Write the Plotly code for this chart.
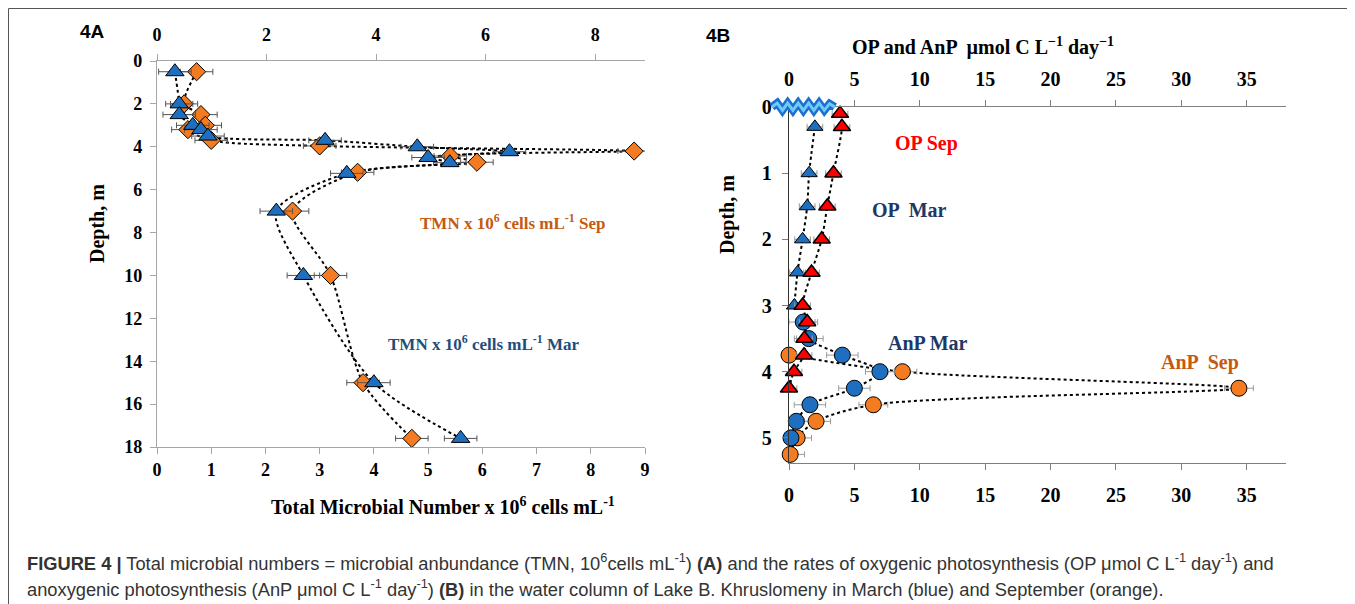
import plotly.graph_objects as go

# the page body adds an 8px margin; the figure is sized so that it fills the rest of the window
OFF = 8
W, H = 1355 - OFF, 604 - OFF

# ---------------- Panel A data (TMN, 10^6 cells/mL) ----------------
a_mar_depth = [0.5, 2.0, 2.5, 3.0, 3.2, 3.5, 3.7, 4.0, 4.23, 4.5, 4.74, 5.24, 7.0, 10.0, 15.0, 17.6]
a_mar_tmn = [0.33, 0.41, 0.41, 0.66, 0.81, 0.94, 3.1, 4.8, 6.5, 5.0, 5.4, 3.5, 2.2, 2.7, 4.0, 5.6]
a_mar_err = [0.3, 0.25, 0.3, 0.3, 0.3, 0.3, 0.3, 0.3, 0.3, 0.3, 0.3, 0.3, 0.3, 0.3, 0.3, 0.3]

a_sep_depth = [0.5, 2.0, 2.5, 3.0, 3.2, 3.7, 3.96, 4.2, 4.43, 4.72, 5.19, 7.0, 10.0, 15.0, 17.6]
a_sep_tmn = [0.73, 0.5, 0.81, 0.89, 0.57, 1.0, 3.0, 8.8, 5.41, 5.9, 3.7, 2.5, 3.2, 3.8, 4.7]
a_sep_err = [0.3, 0.25, 0.3, 0.3, 0.3, 0.3, 0.3, 0.3, 0.3, 0.3, 0.3, 0.3, 0.3, 0.3, 0.3]

a_x_ticks = [0, 1, 2, 3, 4, 5, 6, 7, 8, 9]
a_top_ticks = [0, 2, 4, 6, 8]
a_y_ticks = [0, 2, 4, 6, 8, 10, 12, 14, 16, 18]

# ---------------- Panel B data (umol C / L / day) ----------------
op_mar_depth = [0.3, 1.0, 1.5, 2.0, 2.5, 3.0]
op_mar = [1.98, 1.54, 1.39, 1.04, 0.65, 0.41]
op_mar_err = [0.6, 0.6, 0.6, 0.6, 0.6, 0.6]

op_sep_depth = [0.1, 0.3, 1.0, 1.5, 2.0, 2.5, 3.0, 3.25, 3.5, 3.75, 4.0, 4.25]
op_sep = [3.9, 4.05, 3.4, 2.93, 2.5, 1.72, 1.04, 1.39, 1.18, 1.15, 0.38, 0.0]
op_sep_err = [0.6, 0.6, 0.6, 0.6, 0.6, 0.6, 0.6, 0.6, 0.6, 0.6, 0.6, 0.6]

anp_mar_depth = [3.25, 3.5, 3.75, 4.0, 4.25, 4.5, 4.75, 5.0]
anp_mar = [1.09, 1.51, 4.08, 6.95, 5.0, 1.6, 0.56, 0.15]
anp_mar_err = [1.1, 1.1, 1.2, 1.1, 1.2, 1.2, 0.6, 0.6]

anp_sep_depth = [3.75, 4.0, 4.25, 4.5, 4.75, 5.0, 5.25]
anp_sep = [0.0, 8.67, 34.4, 6.45, 2.07, 0.62, 0.09]
anp_sep_err = [0.3, 1.1, 1.1, 1.1, 1.1, 1.1, 1.1]

b_x_ticks = [0, 5, 10, 15, 20, 25, 30, 35]
b_y_ticks = [0, 1, 2, 3, 4, 5]

# ice / surface marker at depth 0 (zigzag)
ice_x = [-1.3, -0.9, -0.5, -0.1, 0.3, 0.7, 1.1, 1.5, 1.9, 2.3, 2.7, 3.1, 3.5]
ice_y = [0.0, -0.06, 0.05, -0.06, 0.05, -0.06, 0.05, -0.06, 0.05, -0.06, 0.05, -0.05, 0.0]

# ---------------- styling ----------------
BLUE = "#1f6fc0"
ORANGE = "#f47b20"
RED = "#ff0000"
SERIF = "Liberation Serif, Times New Roman, serif"
SANS = "Liberation Sans, Arial, sans-serif"


def px_x(p):
    return (p - OFF) / W


def px_y(p):
    return 1 - (p - OFF) / H


fig = go.Figure()

dot_line = dict(color="black", width=2, dash="dot", shape="spline", smoothing=0.8)

# Panel A lines
fig.add_trace(go.Scatter(x=a_mar_tmn, y=a_mar_depth, mode="lines", line=dot_line,
                         xaxis="x", yaxis="y", hoverinfo="skip", showlegend=False))
fig.add_trace(go.Scatter(x=a_sep_tmn, y=a_sep_depth, mode="lines", line=dot_line,
                         xaxis="x", yaxis="y", hoverinfo="skip", showlegend=False))
# Panel A markers
fig.add_trace(go.Scatter(x=a_sep_tmn, y=a_sep_depth, mode="markers",
                         marker=dict(symbol="diamond", size=14, color=ORANGE,
                                     line=dict(color="black", width=1)),
                         error_x=dict(type="data", array=a_sep_err, color="#555555",
                                      thickness=1, width=3),
                         xaxis="x", yaxis="y", cliponaxis=False, showlegend=False, name="TMN Sep"))
fig.add_trace(go.Scatter(x=a_mar_tmn, y=a_mar_depth, mode="markers",
                         marker=dict(symbol="triangle-up", size=16, color=BLUE,
                                     line=dict(color="black", width=1)),
                         error_x=dict(type="data", array=a_mar_err, color="#555555",
                                      thickness=1, width=3),
                         xaxis="x", yaxis="y", cliponaxis=False, showlegend=False, name="TMN Mar"))
# dummy trace for top axis of A
fig.add_trace(go.Scatter(x=[0], y=[0], mode="markers", marker=dict(opacity=0),
                         xaxis="x2", yaxis="y", hoverinfo="skip", showlegend=False))

# Panel B lines
for xs, ys in [(op_mar, op_mar_depth), (op_sep, op_sep_depth),
               (anp_mar, anp_mar_depth), (anp_sep, anp_sep_depth)]:
    fig.add_trace(go.Scatter(x=xs, y=ys, mode="lines", line=dot_line,
                             xaxis="x3", yaxis="y2", hoverinfo="skip", showlegend=False))

# ice marker, drawn on a hidden companion subplot with the same scale but a little more room
fig.add_trace(go.Scatter(x=ice_x, y=ice_y, mode="lines",
                         line=dict(color="#1a6fd0", width=8),
                         xaxis="x5", yaxis="y3", hoverinfo="skip", showlegend=False))
fig.add_trace(go.Scatter(x=ice_x, y=ice_y, mode="lines",
                         line=dict(color="#6fcaf5", width=3),
                         xaxis="x5", yaxis="y3", hoverinfo="skip", showlegend=False))

err_b = dict(type="data", color="#9a9a9a", thickness=1, width=3)
fig.add_trace(go.Scatter(x=anp_sep, y=anp_sep_depth, mode="markers",
                         marker=dict(symbol="circle", size=16, color=ORANGE,
                                     line=dict(color="black", width=1)),
                         error_x=dict(err_b, array=anp_sep_err),
                         xaxis="x3", yaxis="y2", cliponaxis=False, showlegend=False, name="AnP Sep"))
fig.add_trace(go.Scatter(x=anp_mar, y=anp_mar_depth, mode="markers",
                         marker=dict(symbol="circle", size=16, color=BLUE,
                                     line=dict(color="black", width=1)),
                         error_x=dict(err_b, array=anp_mar_err),
                         xaxis="x3", yaxis="y2", cliponaxis=False, showlegend=False, name="AnP Mar"))
fig.add_trace(go.Scatter(x=op_mar, y=op_mar_depth, mode="markers",
                         marker=dict(symbol="triangle-up", size=14, color=BLUE,
                                     line=dict(color="black", width=1)),
                         error_x=dict(err_b, array=op_mar_err),
                         xaxis="x3", yaxis="y2", cliponaxis=False, showlegend=False, name="OP Mar"))
fig.add_trace(go.Scatter(x=op_sep, y=op_sep_depth, mode="markers",
                         marker=dict(symbol="triangle-up", size=15, color=RED,
                                     line=dict(color="black", width=1.5)),
                         error_x=dict(err_b, array=op_sep_err),
                         xaxis="x3", yaxis="y2", cliponaxis=False, showlegend=False, name="OP Sep"))
# dummy for top axis of B
fig.add_trace(go.Scatter(x=[0], y=[0], mode="markers", marker=dict(opacity=0),
                         xaxis="x4", yaxis="y2", hoverinfo="skip", showlegend=False))

tick_font_a = dict(family=SERIF, size=18, color="black", weight="bold")
tick_font_b = dict(family=SERIF, size=20, color="black", weight="bold")
gray_a = "#a6a6a6"
gray_b = "#7f7f7f"

axA_common = dict(showgrid=False, zeroline=False, showline=True, linecolor=gray_a,
                  linewidth=1.3, ticks="outside", ticklen=6, tickcolor=gray_a,
                  tickfont=tick_font_a, automargin=False)
axB_common = dict(showgrid=False, zeroline=False, showline=True, linecolor=gray_b,
                  linewidth=1.3, ticks="outside", ticklen=6, tickcolor=gray_b,
                  tickfont=tick_font_b, automargin=False)

dA_x = [px_x(157), px_x(645)]
dA_y = [px_y(447), px_y(61)]
# panel B: x 0..38 over 789..1286 px, depth 0..5.38 over 107..463 px
bx0, bx1, by0, by1 = 789, 1286, 107, 463
bxmax, bymax = 38.0, 5.38
dB_x = [px_x(bx0), px_x(bx1)]
dB_y = [px_y(by1), px_y(by0)]
# hidden companion subplot (same scale, extended 20 px left and 14 px up)
sx = (bx1 - bx0) / bxmax
sy = (by1 - by0) / bymax
ex0, ey0 = bx0 - 20, by0 - 14
dI_x = [px_x(ex0), px_x(bx1)]
dI_y = [px_y(by1), px_y(ey0)]
rI_x = [-(bx0 - ex0) / sx, bxmax]
rI_y = [bymax, -(by0 - ey0) / sy]

hidden = dict(visible=False, showgrid=False, zeroline=False, automargin=False)

fig.update_layout(
    width=W, height=H,
    margin=dict(l=0, r=0, t=0, b=0, autoexpand=False),
    paper_bgcolor="white", plot_bgcolor="rgba(0,0,0,0)",
    xaxis=dict(axA_common, domain=dA_x, range=[0, 9], tickvals=a_x_ticks,
               anchor="y", side="bottom"),
    xaxis2=dict(axA_common, domain=dA_x, range=[0, 8.91], tickvals=a_top_ticks,
                anchor="y", side="top", overlaying="x", ticklabelstandoff=6),
    yaxis=dict(axA_common, domain=dA_y, range=[18, 0], tickvals=a_y_ticks,
               anchor="x", ticklabelstandoff=4),
    xaxis3=dict(axB_common, domain=dB_x, range=[0, bxmax], tickvals=b_x_ticks,
                anchor="y2", side="bottom", ticklabelstandoff=8),
    xaxis4=dict(axB_common, domain=dB_x, range=[0, bxmax], tickvals=b_x_ticks,
                anchor="y2", side="top", overlaying="x3", ticklabelstandoff=6),
    yaxis2=dict(axB_common, domain=dB_y, range=[bymax, 0], tickvals=b_y_ticks,
                anchor="x3", linecolor="#333333", ticklabelstandoff=6),
    xaxis5=dict(hidden, domain=dI_x, range=rI_x, anchor="y3"),
    yaxis3=dict(hidden, domain=dI_y, range=rI_y, anchor="x5"),
)

ann = []


def add_text(text, x, y, size, color="black", family=SERIF, bold=True,
             xanchor="center", yanchor="middle", angle=0):
    t = f"<b>{text}</b>" if bold else text
    ann.append(dict(text=t, x=px_x(x), y=px_y(y), xref="paper", yref="paper",
                    showarrow=False, xanchor=xanchor, yanchor=yanchor,
                    textangle=angle, font=dict(family=family, size=size, color=color)))


add_text("4A", 78, 32, 19, family=SANS, xanchor="left")
add_text("4B", 704, 35, 19, family=SANS, xanchor="left")
add_text("Depth, m", 98, 224, 20, angle=-90)
add_text("Depth, m", 727, 215, 20, angle=-90)
add_text("Total Microbial Number x 10<sup>6</sup> cells mL<sup>-1</sup>", 443, 506, 20)
add_text("OP and AnP \u00a0\u00b5mol C L<sup>\u22121</sup> day<sup>\u22121</sup>", 983, 47, 20)
add_text("TMN x 10<sup>6</sup> cells mL<sup>-1</sup> Sep", 512, 222, 17, color="#c55a11")
add_text("TMN x 10<sup>6</sup> cells mL<sup>-1</sup> Mar", 483, 343, 17, color="#1f4e79")
add_text("OP Sep", 926, 143, 20, color="#ff0000")
add_text("OP \u00a0Mar", 910, 210, 20, color="#203864")
add_text("AnP Mar", 928, 343, 20, color="#203864")
add_text("AnP \u00a0Sep", 1200, 362, 20, color="#c55a11")

cap_font = "Liberation Sans, Arial, sans-serif"
cap1 = ("<b>FIGURE 4 |</b> Total microbial numbers = microbial anbundance (TMN, 10<sup>6</sup>cells mL<sup>-1</sup>) "
        "<b>(A)</b> and the rates of oxygenic photosynthesis (OP \u03bcmol C L<sup>-1</sup> day<sup>-1</sup>) and")
cap2 = ("anoxygenic photosynthesis (AnP \u03bcmol C L<sup>-1</sup> day<sup>-1</sup>) <b>(B)</b> in the water column "
        "of Lake B. Khruslomeny in March (blue) and September (orange).")
add_text(cap1, 25, 562, 18.3, color="#333333", family=cap_font, bold=False, xanchor="left")
add_text(cap2, 25, 588, 18.3, color="#333333", family=cap_font, bold=False, xanchor="left")

fig.update_layout(annotations=ann)

# frame around figure (starts at the window's 8px point, runs off the right and bottom)
fig.add_shape(type="rect", xref="paper", yref="paper",
              x0=px_x(8.5), x1=px_x(1370), y0=px_y(620), y1=px_y(8.5),
              line=dict(color="#555555", width=1))

fig.write_html("out.html")
